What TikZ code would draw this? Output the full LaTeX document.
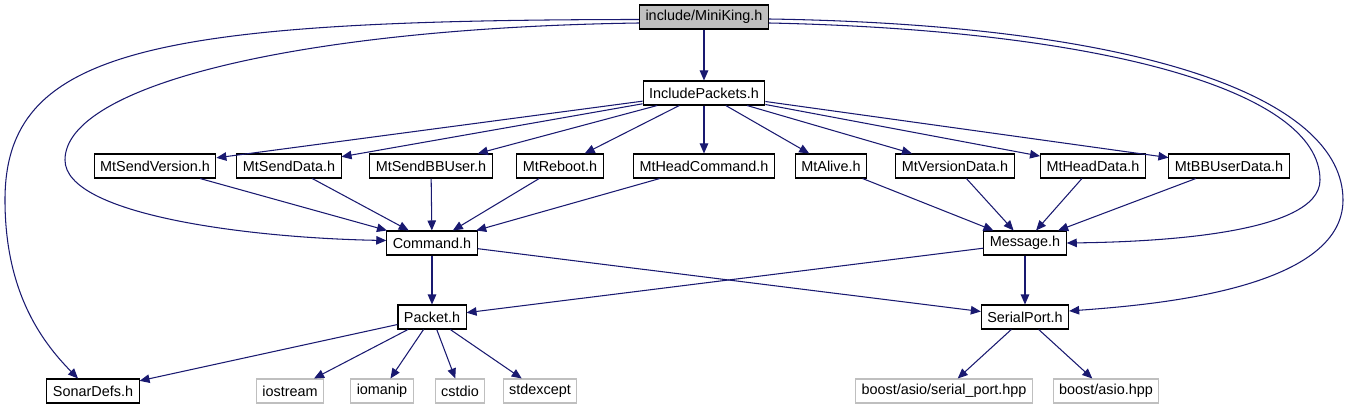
\documentclass[tikz,border=0pt]{standalone}
\usepackage{fontspec}
\setmainfont{Liberation Sans}
\usepackage{xcolor}
\usepackage{tikz}
\usetikzlibrary{arrows.meta,positioning,calc}

\definecolor{edgeblue}{HTML}{191970}
\definecolor{extgray}{HTML}{BFBFBF}

\begin{document}
\begin{tikzpicture}[
    x=0.02cm, y=-0.02cm,
    box/.style={draw, line width=0.6pt, minimum height=0.48cm, inner xsep=0.12cm, inner ysep=0pt, font=\fontsize{8.2}{9.8}\selectfont, fill=white},
    extbox/.style={box, draw=extgray},
    arr/.style={-{Triangle[length=0.2cm, width=0.17cm]}, edgeblue, line width=0.6pt},
]
\useasboundingbox (0,0) rectangle (1349,411);

% Top: the file itself
\node[box, fill=extgray] (miniking) at (704,17) {include/MiniKing.h};
\node[box] (incpk) at (704,93) {IncludePackets.h};

% Packet headers
\node[box] (sendver) at (155,166) {MtSendVersion.h};
\node[box] (senddata) at (289,166) {MtSendData.h};
\node[box] (sendbb) at (431,166) {MtSendBBUser.h};
\node[box] (reboot) at (560,166) {MtReboot.h};
\node[box] (headcmd) at (704,166) {MtHeadCommand.h};
\node[box] (alive) at (831,166) {MtAlive.h};
\node[box] (verdata) at (955,166) {MtVersionData.h};
\node[box] (headdata) at (1093,166) {MtHeadData.h};
\node[box] (bbdata) at (1229,166) {MtBBUserData.h};

% Middle
\node[box] (command) at (432,243) {Command.h};
\node[box] (message) at (1025,243) {Message.h};
\node[box] (packet) at (432,317) {Packet.h};
\node[box] (serial) at (1025,317) {SerialPort.h};

% Bottom
\node[box] (sonar) at (93,391) {SonarDefs.h};
\node[extbox] (iostream) at (290,391) {iostream};
\node[extbox] (iomanip) at (382,391) {iomanip};
\node[extbox] (cstdio) at (460,391) {cstdio};
\node[extbox] (stdexcept) at (540,391) {stdexcept};
\node[extbox] (asioport) at (944,391) {boost/asio/serial\_port.hpp};
\node[extbox] (asio) at (1106,391) {boost/asio.hpp};

% Arrows
\draw[arr] (miniking) -- (incpk);
\foreach \t in {sendver,senddata,sendbb,reboot,headcmd,alive,verdata,headdata,bbdata}
    \draw[arr] (incpk) -- (\t);
\foreach \t in {sendver,senddata,sendbb,reboot,headcmd}
    \draw[arr] (\t) -- (command);
\foreach \t in {alive,verdata,headdata,bbdata}
    \draw[arr] (\t) -- (message);
\draw[arr] (command) -- (packet);
\draw[arr] (command) -- (serial);
\draw[arr] (message) -- (packet);
\draw[arr] (message) -- (serial);
\foreach \t in {sonar,iostream,iomanip,cstdio,stdexcept}
    \draw[arr] (packet) -- (\t);
\draw[arr] (serial) -- (asioport);
\draw[arr] (serial) -- (asio);

% Long curved includes
\draw[arr] ([yshift=-0.05cm]miniking.west) .. controls (150,20) and (5,50) .. (5,200)
    .. controls (5,290) and (40,340) .. ([xshift=-0.3cm]sonar.north);
\draw[arr] ([yshift=-0.12cm]miniking.west) .. controls (300,28) and (65,85) .. (65,160)
    .. controls (65,215) and (250,238) .. ([yshift=0.05cm]command.west);
\draw[arr] ([yshift=-0.12cm]miniking.east) .. controls (1100,30) and (1320,90) .. (1320,180)
    .. controls (1320,235) and (1150,242) .. (message.east);
\draw[arr] ([yshift=-0.04cm]miniking.east) .. controls (1150,25) and (1343,100) .. (1343,200)
    .. controls (1343,290) and (1150,305) .. ([yshift=0.12cm]serial.east);
\end{tikzpicture}
\end{document}
